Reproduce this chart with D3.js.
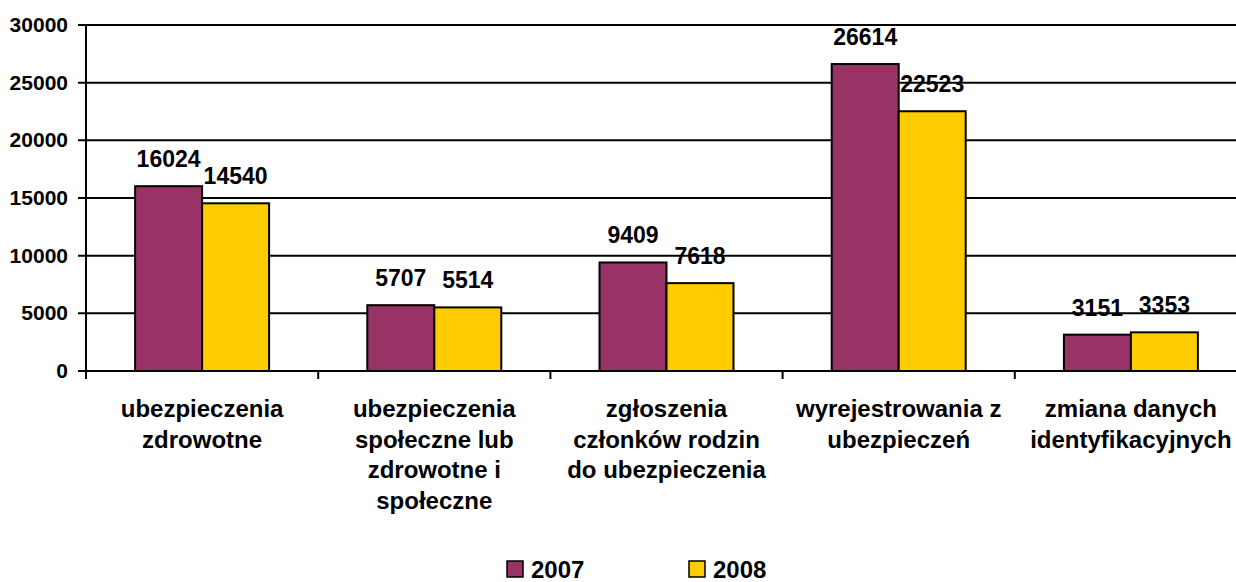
<!DOCTYPE html>
<html>
<head>
<meta charset="utf-8">
<script src="https://cdn.jsdelivr.net/npm/d3@7"></script>
<style>
  body { margin: 0; background: #fff; }
  text { font-family: "Liberation Sans", Arial, sans-serif; font-weight: bold; fill: #000; }
</style>
</head>
<body>
<svg width="1236" height="582"></svg>
<script>
const categories = [
    "ubezpieczenia|zdrowotne",
    "ubezpieczenia|społeczne lub|zdrowotne i|społeczne",
    "zgłoszenia|członków rodzin|do ubezpieczenia",
    "wyrejestrowania z|ubezpieczeń",
    "zmiana danych|identyfikacyjnych"
];
const years = ["2007", "2008"];
const values2007 = [16024, 5707, 9409, 26614, 3151];
const values2008 = [14540, 5514, 7618, 22523, 3353];
const yTicks = [0, 5000, 10000, 15000, 20000, 25000, 30000];
const colors = ["#993366", "#FFCC00"];

const svg = d3.select("svg"),
    margin = {top: 25, left: 86},
    plotRight = 1247,
    plotBottom = 371;

const x0 = d3.scaleBand().domain(categories).range([margin.left, plotRight]);
const groupW = x0.bandwidth() * 0.577;
const x1 = d3.scaleBand().domain(years).range([0, groupW]);
const y = d3.scaleLinear().domain([0, 30000]).range([plotBottom, margin.top]);

// gridlines + y ticks
svg.append("g").selectAll("line")
    .data(yTicks)
    .enter().append("line")
    .attr("x1", margin.left - 8)
    .attr("x2", 1236)
    .attr("y1", d => y(d))
    .attr("y2", d => y(d))
    .attr("stroke", "#000")
    .attr("stroke-width", 2);

svg.append("g").selectAll("text")
    .data(yTicks)
    .enter().append("text")
    .attr("x", 68)
    .attr("y", d => y(d) + 7)
    .attr("text-anchor", "end")
    .style("font-size", "21px")
    .text(d => d);

// bars
const rows = categories.map((c, i) => ({cat: c, vals: [values2007[i], values2008[i]]}));
const groups = svg.append("g").selectAll("g")
    .data(rows)
    .enter().append("g")
    .attr("transform", d => "translate(" + (x0(d.cat) + (x0.bandwidth() - groupW) / 2) + ",0)");

groups.selectAll("rect")
    .data(d => d.vals.map((v, j) => ({year: years[j], value: v, j})))
    .enter().append("rect")
    .attr("x", d => x1(d.year))
    .attr("width", x1.bandwidth())
    .attr("y", d => y(d.value))
    .attr("height", d => plotBottom - y(d.value))
    .attr("fill", d => colors[d.j])
    .attr("stroke", "#000")
    .attr("stroke-width", 2);

groups.selectAll("text")
    .data(d => d.vals.map((v, j) => ({year: years[j], value: v})))
    .enter().append("text")
    .attr("x", d => x1(d.year) + x1.bandwidth() / 2)
    .attr("y", d => y(d.value) - 19)
    .attr("text-anchor", "middle")
    .style("font-size", "23px")
    .text(d => d.value);

// axes lines
svg.append("line")
    .attr("x1", margin.left).attr("x2", margin.left)
    .attr("y1", margin.top).attr("y2", plotBottom + 8)
    .attr("stroke", "#000").attr("stroke-width", 2);
svg.append("line")
    .attr("x1", margin.left).attr("x2", 1236)
    .attr("y1", plotBottom).attr("y2", plotBottom)
    .attr("stroke", "#000").attr("stroke-width", 2);

svg.append("g").selectAll("line")
    .data(categories.slice(1))
    .enter().append("line")
    .attr("x1", d => x0(d)).attr("x2", d => x0(d))
    .attr("y1", plotBottom).attr("y2", plotBottom + 8)
    .attr("stroke", "#000").attr("stroke-width", 2);

// category labels
const catLabels = svg.append("g").selectAll("text")
    .data(categories)
    .enter().append("text")
    .attr("x", d => x0(d) + x0.bandwidth() / 2)
    .attr("y", 417)
    .attr("text-anchor", "middle")
    .style("font-size", "24px");

catLabels.selectAll("tspan")
    .data(d => d.split("|"))
    .enter().append("tspan")
    .attr("x", function() { return this.parentNode.getAttribute("x"); })
    .attr("dy", (d, i) => i === 0 ? 0 : 30.5)
    .text(d => d);

// legend
const legend = svg.append("g").selectAll("g")
    .data(years)
    .enter().append("g")
    .attr("transform", (d, i) => "translate(" + (507 + i * 182) + ",561)");

legend.append("rect")
    .attr("width", 16)
    .attr("height", 16)
    .attr("fill", (d, i) => colors[i])
    .attr("stroke", "#000")
    .attr("stroke-width", 1.5);

legend.append("text")
    .attr("x", 24)
    .attr("y", 17)
    .style("font-size", "24px")
    .text(d => d);
</script>
</body>
</html>
